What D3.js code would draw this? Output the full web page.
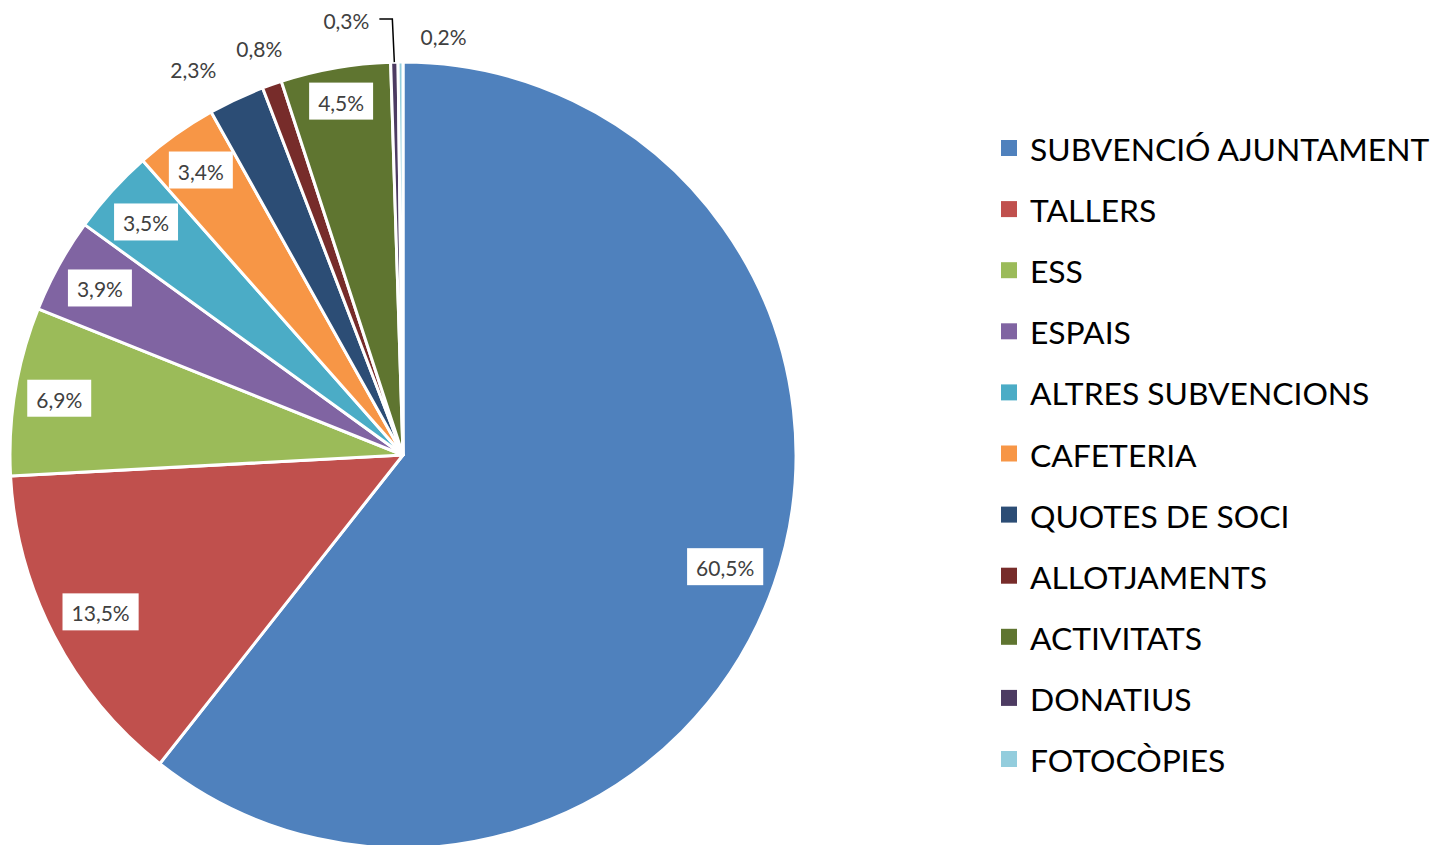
<!DOCTYPE html>
<html><head><meta charset="utf-8">
<script src="https://cdn.jsdelivr.net/npm/d3@7/dist/d3.min.js"></script>
<style>html,body{margin:0;padding:0;background:#fff;overflow:hidden}</style>
</head><body>
<svg id="chart" width="1433" height="845"></svg>
<script>
const categories = ["SUBVENCIÓ AJUNTAMENT","TALLERS","ESS","ESPAIS","ALTRES SUBVENCIONS","CAFETERIA","QUOTES DE SOCI","ALLOTJAMENTS","ACTIVITATS","DONATIUS","FOTOCÒPIES"];
const values = [60.5, 13.5, 6.9, 3.9, 3.5, 3.4, 2.3, 0.8, 4.5, 0.3, 0.2];
const labels = ["60,5%","13,5%","6,9%","3,9%","3,5%","3,4%","2,3%","0,8%","4,5%","0,3%","0,2%"];
const colors = ["#4F81BD","#C0504D","#9BBB59","#8064A2","#4BACC6","#F79646","#2C4D75","#772C2A","#5F7530","#4D3B62","#93CDDD"];

const svg = d3.select("#chart");
const cx = 403, cy = 455, R = 393;
const g = svg.append("g").attr("transform", `translate(${cx},${cy})`);

const pie = d3.pie().value(d => d).sort(null);
const arcs = pie(values);
const arc = d3.arc().innerRadius(0).outerRadius(R);

g.selectAll("path.slice").data(arcs).enter().append("path")
  .attr("class","slice")
  .attr("d", arc)
  .attr("fill", (d,i) => colors[i])
  .attr("stroke", "#fff").attr("stroke-width", 3).attr("stroke-linejoin","round");

const FONT = "Lato, 'Open Sans', sans-serif";
const outsideThreshold = 3;
const outside = [];
arcs.forEach((d,i) => {
  const mid = (d.startAngle + d.endAngle)/2;
  const sx = Math.sin(mid), sy = -Math.cos(mid);
  const t = g.append("text").text(labels[i])
    .attr("font-family", FONT).attr("font-size", 21).attr("fill", "#404040")
    .attr("text-anchor","middle").attr("dominant-baseline","central");
  const w = t.node().getComputedTextLength();
  const h = 22;
  if (values[i] >= outsideThreshold) {
    const bw = w + 18, bh = 37;
    const ext = Math.abs(sx)*bw/2 + Math.abs(sy)*bh/2;
    const dist = R - 10 - ext;
    const x = sx*dist, y = sy*dist;
    g.insert("rect", () => t.node())
      .attr("x", x - bw/2).attr("y", y - bh/2).attr("width", bw).attr("height", bh)
      .attr("fill", "#fff");
    t.attr("x", x).attr("y", y + 1);
  } else {
    const ext = Math.abs(sx)*w/2 + Math.abs(sy)*h/2;
    const dist = R + 20 + ext;
    outside.push({i, mid, sx, sy, w, t, x: sx*dist, y: sy*dist, ax: sx*R, ay: sy*R});
  }
});

// resolve collisions of outside labels
for (let k = outside.length - 1; k > 0; k--) {
  const a = outside[k-1], b = outside[k];
  const need = (a.w + b.w)/2 + 8;
  if (Math.abs(a.x - b.x) < need && Math.abs(a.y - b.y) < 24) {
    if (Math.abs(b.mid - a.mid) < 3*Math.PI/180) {
      // nearly coincident: right one beside the slice, left one gets a callout
      b.x = b.ax + 20 + b.w/2;
      b.y = b.ay - 26;
      const ly = a.ay - 43;
      a.x = a.ax - 25 - a.w/2;
      a.y = ly + 1;
      g.append("path")
        .attr("d", `M${a.ax},${a.ay} L${a.ax - 2},${ly} L${a.ax - 15},${ly}`)
        .attr("fill","none").attr("stroke","#000").attr("stroke-width",1.5);
    } else {
      a.x = b.x - need - 12;
      a.y += 6;
    }
  }
}
outside.forEach(o => o.t.attr("x", o.x).attr("y", o.y));

// legend
const legend = svg.append("g").attr("transform","translate(1001,148)");
const rowH = 61.1;
const items = legend.selectAll("g").data(categories).enter().append("g")
  .attr("transform", (d,i) => `translate(0,${i*rowH})`);
items.append("rect").attr("x",0).attr("y",-8).attr("width",16).attr("height",16)
  .attr("fill", (d,i) => colors[i]);
items.append("text").attr("x", 29).attr("y", 1).attr("dominant-baseline","central")
  .attr("font-family", FONT).attr("font-size", 31.8).attr("fill","#000")
  .text(d => d);
</script>
</body></html>
